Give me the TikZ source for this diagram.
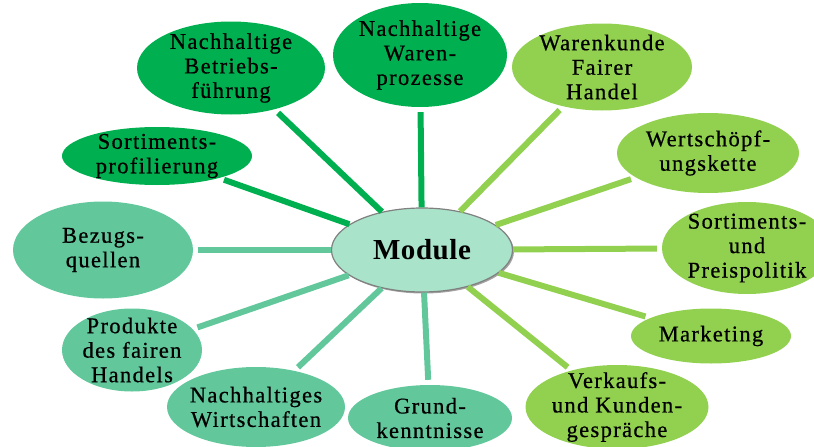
\documentclass[tikz,border=0pt]{standalone}
\usepackage{fontspec}
\setmainfont{Liberation Serif}[LetterSpace=6, FakeBold=0.6]
\newfontfamily\modfont{Liberation Serif}[LetterSpace=2]
\usepackage{tikz}
\usetikzlibrary{shapes, shadows}
\definecolor{dkgreen}{HTML}{00B050}
\definecolor{ltgreen}{HTML}{92D050}
\definecolor{tealgreen}{HTML}{62C89C}
\definecolor{modfill}{HTML}{A9E3CA}

\begin{document}
\begin{tikzpicture}[x=1pt,y=-1pt,
	blob/.style={ellipse, inner sep=0pt, fill=#1},
	txt/.style={align=center, inner sep=0pt, font=\fontsize{22.5}{24.5}\selectfont},
	spoke/.style={line width=6pt, draw=#1, shorten >=5pt},
	]
	\useasboundingbox (0,0) rectangle (814,447);
	\clip (0,0) rectangle (814,447);
	\node[blob=modfill, draw=gray, line width=1.2pt,
		drop shadow={shadow xshift=1.5pt, shadow yshift=-1.5pt, fill=black!60, opacity=.6},
		minimum width=181pt, minimum height=84pt,
		font=\modfont\bfseries\fontsize{29}{30}\selectfont] (module) at (422,250) {Module};
	\node[blob=dkgreen, minimum width=188pt, minimum height=93pt,
		label={[txt]center:{Nachhaltige\\Betriebs-\\führung}}] (betrieb) at (231,68) {};
	\node[blob=dkgreen, minimum width=174pt, minimum height=104pt,
		label={[txt]center:{Nachhaltige\\Waren-\\prozesse}}] (waren) at (420,55) {};
	\node[blob=ltgreen, minimum width=180pt, minimum height=87pt,
		label={[txt]center:{Warenkunde\\Fairer\\Handel}}] (fair) at (602,67) {};
	\node[blob=ltgreen, minimum width=182pt, minimum height=80pt,
		label={[txt]center:{Wertschöpf-\\ungskette}}] (wert) at (708,153) {};
	\node[blob=ltgreen, minimum width=170pt, minimum height=92pt,
		label={[txt]center:{Sortiments-\\und\\Preispolitik}}] (preis) at (747,248) {};
	\node[blob=ltgreen, minimum width=160pt, minimum height=55pt,
		label={[txt]center:{Marketing}}] (market) at (711,336) {};
	\node[blob=ltgreen, minimum width=183pt, minimum height=84pt,
		label={[txt]center:{Verkaufs-\\und Kunden-\\gespräche}}] (verkauf) at (617,407) {};
	\node[blob=tealgreen, minimum width=164pt, minimum height=66pt,
		label={[txt]center:{Grund-\\kenntnisse}}] (grund) at (430,418) {};
	\node[blob=tealgreen, minimum width=178pt, minimum height=80pt,
		label={[txt]center:{Nachhaltiges\\Wirtschaften}}] (wirt) at (256,407) {};
	\node[blob=tealgreen, minimum width=140pt, minimum height=83pt,
		label={[txt]center:{Produkte\\des fairen\\Handels}}] (produkt) at (132,350) {};
	\node[blob=tealgreen, minimum width=180pt, minimum height=97pt,
		label={[txt]center:{Bezugs-\\quellen}}] (bezug) at (103,250) {};
	\node[blob=dkgreen, minimum width=190pt, minimum height=58pt,
		label={[txt]center:{Sortiments-\\profilierung}}] (profil) at (157,156) {};
	\draw[spoke=dkgreen] (module) -- (betrieb);
	\draw[spoke=dkgreen] (module) -- (waren);
	\draw[spoke=ltgreen] (module) -- (fair);
	\draw[spoke=ltgreen] (module) -- (wert);
	\draw[spoke=ltgreen] (module) -- (preis);
	\draw[spoke=ltgreen] (module) -- (market);
	\draw[spoke=ltgreen] (module) -- (verkauf);
	\draw[spoke=tealgreen] (module) -- (grund);
	\draw[spoke=tealgreen] (module) -- (wirt);
	\draw[spoke=tealgreen] (module) -- (produkt);
	\draw[spoke=tealgreen] (module) -- (bezug);
	\draw[spoke=dkgreen] (module) -- (profil);
\end{tikzpicture}
\end{document}
